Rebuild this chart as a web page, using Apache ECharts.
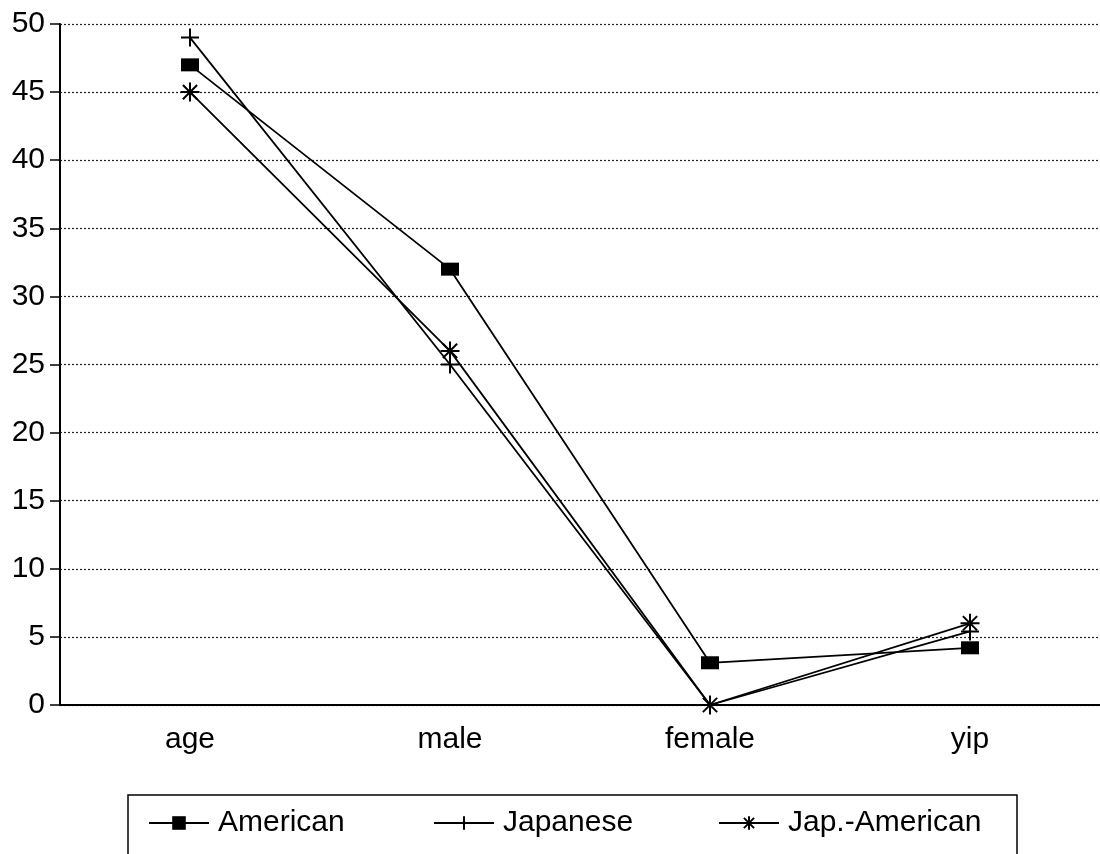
<!DOCTYPE html>
<html>
<head>
<meta charset="utf-8">
<script src="https://cdn.jsdelivr.net/npm/echarts@6/dist/echarts.min.js"></script>
<style>
  html, body { margin: 0; padding: 0; background: #fff; }
  #chart { width: 1100px; height: 854px; }
</style>
</head>
<body>
<div id="chart"></div>
<script>
// data
const categories = ['age', 'male', 'female', 'yip'];
const american = [47, 32, 3.1, 4.2];
const japanese = [49, 25, 0, 5.4];
const japAmerican = [45, 26, 0, 6.0];
const yTicks = [0, 5, 10, 15, 20, 25, 30, 35, 40, 45, 50];

const FONT = '"Liberation Sans", Arial, sans-serif';

// marker shapes
const plusPath = 'path://M0,8 L16,8 M8,0 L8,16';
const starPath = 'path://M0,8 L16,8 M8,0 L8,16 M2,2 L14,14 M14,2 L2,14';

const chart = echarts.init(document.getElementById('chart'));

const lineSeries = (name, data, symbol, size) => ({
  name,
  type: 'line',
  data,
  symbol,
  symbolSize: size,
  showAllSymbol: true,
  lineStyle: { color: '#000', width: 1.8 },
  itemStyle: { color: '#000', borderColor: '#000', borderWidth: symbol === 'rect' ? 0 : 2 },
  emphasis: { disabled: true },
  animation: false
});

const legendAt = (name, left) => ({
  data: [name],
  left,
  top: 803,
  itemWidth: 60,
  itemHeight: 17,
  textStyle: { fontFamily: FONT, fontSize: 30, color: '#000', padding: [0, 0, 0, 4] },
  selectedMode: false
});

chart.setOption({
  backgroundColor: '#fff',
  animation: false,
  grid: { left: 60, top: 24, width: 1044, bottom: 149 },
  xAxis: {
    type: 'category',
    data: categories,
    boundaryGap: true,
    axisLine: { lineStyle: { color: '#000', width: 2 } },
    axisTick: { alignWithLabel: true, length: 10, lineStyle: { color: '#000', width: 1.5 } },
    axisLabel: { fontFamily: FONT, fontSize: 30, color: '#000', margin: 20 }
  },
  yAxis: {
    type: 'value',
    min: yTicks[0],
    max: yTicks[yTicks.length - 1],
    interval: 5,
    axisLine: { show: true, lineStyle: { color: '#000', width: 2 } },
    axisTick: { show: true, length: 10, lineStyle: { color: '#000', width: 1.5 } },
    axisLabel: { fontFamily: FONT, fontSize: 30, color: '#000', margin: 15 },
    splitLine: { show: true, lineStyle: { color: '#222', width: 1.2, type: [2, 2] } }
  },
  legend: [
    legendAt('American', 143),
    legendAt('Japanese', 428),
    legendAt('Jap.-American', 713)
  ],
  graphic: [{
    type: 'rect',
    shape: { x: 128, y: 795, width: 889, height: 80 },
    style: { fill: 'none', stroke: '#000', lineWidth: 1.5 },
    silent: true
  }],
  series: [
    lineSeries('American', american, 'rect', [18, 13]),
    lineSeries('Japanese', japanese, plusPath, 18),
    lineSeries('Jap.-American', japAmerican, starPath, 19)
  ]
});
</script>
</body>
</html>
